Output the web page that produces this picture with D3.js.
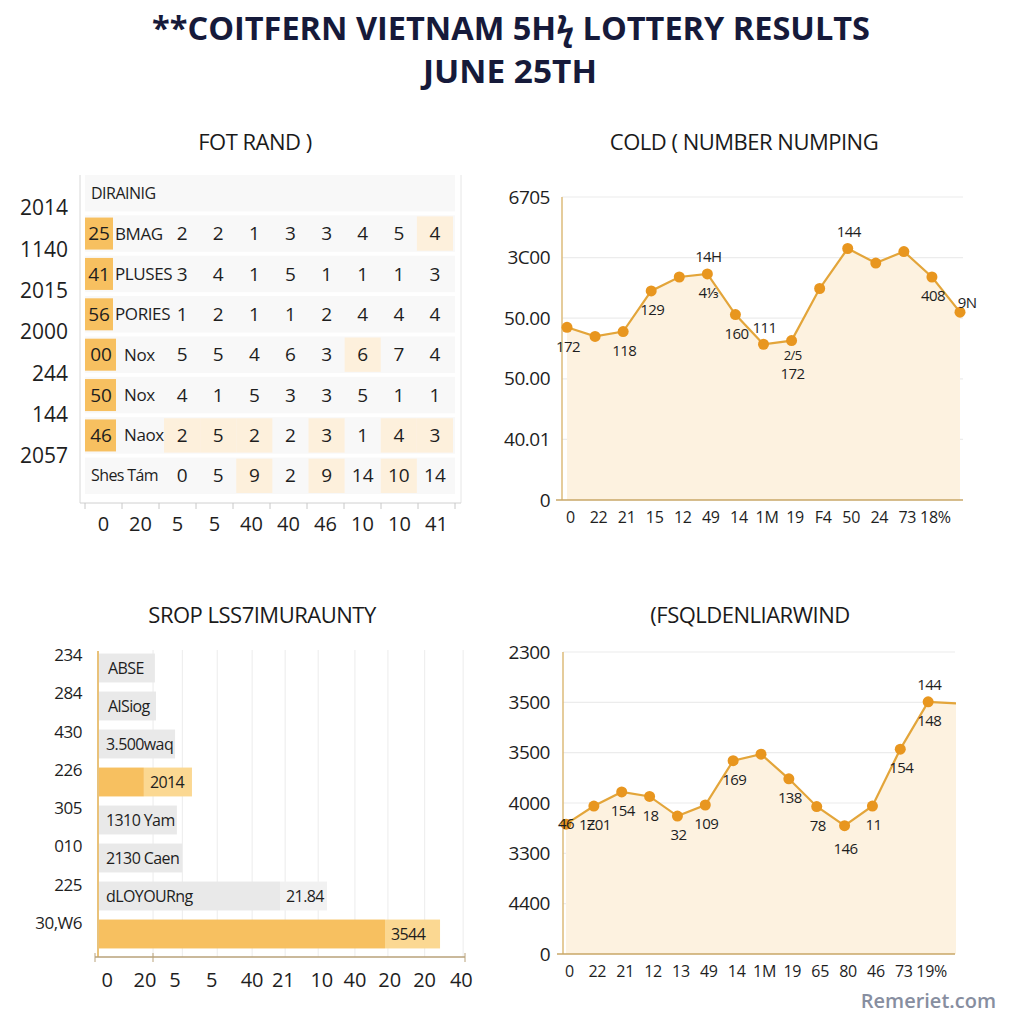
<!DOCTYPE html>
<html><head><meta charset="utf-8">
<script src="https://cdn.jsdelivr.net/npm/d3@7"></script>
<style>body{margin:0;background:#fff} svg{display:block} text{font-family:"Open Sans","Noto Sans",sans-serif;fill:#1e1e1e}</style>
</head><body><svg id="c" width="1024" height="1024"></svg>
<script>
// ---------- DATA ----------
const titleLines = ["**COITFERN VIETNAM 5H\u03DF LOTTERY RESULTS", "JUNE 25TH"];
const panelTitles = ["FOT RAND )", "COLD ( NUMBER NUMPING", "SROP LSS7IMURAUNTY", "(FSQLDENLIARWIND"];

// panel 1: table
const tableHeader = "DIRAINIG";
const rowBadges = ["25", "41", "56", "00", "50", "46", ""];
const rowNames = ["BMAG", "PLUSES", "PORIES", "Nox", "Nox", "Naox", "Shes T\u00e1m"];
const rowValues = [
  [2, 2, 1, 3, 3, 4, 5, 4],
  [3, 4, 1, 5, 1, 1, 1, 3],
  [1, 2, 1, 1, 2, 4, 4, 4],
  [5, 5, 4, 6, 3, 6, 7, 4],
  [4, 1, 5, 3, 3, 5, 1, 1],
  [2, 5, 2, 2, 3, 1, 4, 3],
  [0, 5, 9, 2, 9, 14, 10, 14]
];
const highlightCells = [[0,7],[3,5],[5,0],[5,1],[5,2],[5,4],[5,6],[5,7],[6,2],[6,4],[6,6]];
const tableSideLabels = ["2014", "1140", "2015", "2000", "244", "144", "2057"];
const tableAxisLabels = ["0", "20", "5", "5", "40", "40", "46", "10", "10", "41"];

// panel 2: cold number line
const coldX = ["0", "22", "21", "15", "12", "49", "14", "1M", "19", "F4", "50", "24", "73", "18%"];
const coldValues = [2.85, 2.70, 2.78, 3.45, 3.68, 3.73, 3.06, 2.57, 2.63, 3.49, 4.15, 3.91, 4.10, 3.68, 3.10];
const coldYLabels = ["0", "40.01", "50.00", "50.00", "3C00", "6705"];
const coldNotes = [[0,"172","b"],[2,"118","b"],[3,"129","b"],[5,"14H","a"],[5,"4\u2153","b"],[6,"160","b"],[7,"111","a"],[8,"2/5","b2"],[8,"172","bb"],[10,"144","a"],[13,"408","b"],[14,"9N","ar"]];

// panel 3: bars
const barNames = ["ABSE", "AlSiog", "3.500waq", "", "1310 Yam", "2130 Caen", "dLOYOURng", ""];
const barMain = [15.5, 15.8, 21, 12.5, 21.5, 22.9, 49.6, 78.2];
const barExtra = [0, 0, 0, 13.1, 0, 0, 12.8, 15];
const barExtraLabels = ["", "", "", "2014", "", "", "21.84", "3544"];
const barTone = ["gray", "gray", "gray", "orange", "gray", "gray", "gray", "orange"];
const barSideLabels = ["234", "284", "430", "226", "305", "010", "225", "30,W6"];
const barAxisLabels = ["0", "20", "5", "5", "40", "21", "10", "40", "20", "20", "40"];
const barAxisLabelValues = [2.5, 12.8, 21, 31, 42, 50.5, 61, 70, 79.5, 89, 99];
const barGridValues = [15, 23, 32.5, 42, 51, 60, 70, 79, 89, 99.5];

// panel 4: golden line
const goldX = ["0", "22", "21", "12", "13", "49", "14", "1M", "19", "65", "80", "46", "73", "19%"];
const goldValues = [2.58, 2.94, 3.22, 3.13, 2.74, 2.96, 3.84, 3.97, 3.48, 2.93, 2.55, 2.94, 4.07, 5.01, 4.98];
const goldYLabels = ["0", "4400", "3300", "4000", "3500", "3500", "2300"];
const goldNotes = [[0,"46","c"],[1,"1\u01B501","b"],[2,"154","b"],[3,"18","b"],[4,"32","b"],[5,"109","b"],[6,"169","b"],[8,"138","b"],[9,"78","b"],[10,"146","bb2"],[11,"11","b"],[12,"154","b"],[13,"148","b"],[13,"144","a"]];

const watermark = "Remeriet.com";

// ---------- DRAW ----------
const svg = d3.select("#c");
const ORANGE = "#f7c060", ORANGE_L = "#fbd892", CREAM = "#fdf0dc";
const LINE = "#e3a53a", DOT = "#e8961f", AREA = "#fdf2e0", AXIS = "#dcbb7a";

// main title
svg.append("text").attr("x", 511).attr("y", 40).attr("text-anchor", "middle")
  .attr("font-size", 32).attr("font-weight", 700).style("fill", "#161a3a")
  .attr("textLength", 718).attr("lengthAdjust", "spacingAndGlyphs").text(titleLines[0]);
svg.append("text").attr("x", 510).attr("y", 83).attr("text-anchor", "middle")
  .attr("font-size", 32).attr("font-weight", 700).style("fill", "#161a3a")
  .attr("textLength", 174).attr("lengthAdjust", "spacingAndGlyphs").text(titleLines[1]);

// panel titles
const ptPos = [[255, 150], [744, 150], [262, 623], [750, 623]];
panelTitles.forEach((t, i) => {
  svg.append("text").attr("x", ptPos[i][0]).attr("y", ptPos[i][1]).attr("text-anchor", "middle")
    .attr("font-size", 22).style("fill", "#1a1a1a").attr("letter-spacing", -0.5).text(t);
});

// ---------- Panel 1: table ----------
(function () {
  const g = svg.append("g");
  const yRow = d3.scaleBand().domain(d3.range(8)).range([173, 496]);
  const xCol = d3.scaleBand().domain(d3.range(8)).range([164, 453]);
  g.append("line").attr("x1", 80).attr("x2", 80).attr("y1", 175).attr("y2", 503).attr("stroke", "#d8d8d8");
  g.append("line").attr("x1", 461).attr("x2", 461).attr("y1", 175).attr("y2", 503).attr("stroke", "#e6e6e6");
  g.selectAll("rect.stripe").data(d3.range(8)).join("rect").attr("class", "stripe")
    .attr("x", 85).attr("width", 370).attr("y", d => yRow(d) + 2).attr("height", yRow.bandwidth() - 4)
    .attr("fill", "#f8f8f8");
  g.selectAll("rect.hl").data(highlightCells).join("rect").attr("class", "hl")
    .attr("x", d => xCol(d[1])).attr("width", xCol.bandwidth())
    .attr("y", d => yRow(d[0] + 1) + 3).attr("height", yRow.bandwidth() - 6).attr("fill", CREAM);
  g.append("text").attr("x", 91).attr("y", yRow(0) + yRow.bandwidth() / 2).attr("dy", "0.35em")
    .attr("font-size", 16).attr("letter-spacing", -0.5).text(tableHeader);
  rowNames.forEach((name, r) => {
    const cy = yRow(r + 1) + yRow.bandwidth() / 2;
    if (rowBadges[r] !== "") {
      const wide = name !== name.toUpperCase();
      g.append("rect").attr("x", 85).attr("y", cy - 16).attr("width", wide ? 31 : 28).attr("height", 32).attr("fill", ORANGE);
      g.append("text").attr("x", wide ? 101 : 99).attr("y", cy).attr("dy", "0.35em").attr("text-anchor", "middle")
        .attr("font-size", 19).attr("font-weight", 500).text(rowBadges[r]);
      g.append("text").attr("x", wide ? 124 : 115).attr("y", cy).attr("dy", "0.35em")
        .attr("font-size", 17).attr("letter-spacing", -0.4).text(name);
    } else {
      g.append("text").attr("x", 91).attr("y", cy).attr("dy", "0.35em")
        .attr("font-size", 16).attr("letter-spacing", -0.6).text(name);
    }
    rowValues[r].forEach((v, c) => {
      g.append("text").attr("x", xCol(c) + xCol.bandwidth() / 2).attr("y", cy).attr("dy", "0.35em")
        .attr("text-anchor", "middle").attr("font-size", 19).text(v);
    });
  });
  const ySide = d3.scalePoint().domain(d3.range(tableSideLabels.length)).range([208, 456]);
  g.selectAll("text.side").data(tableSideLabels).join("text").attr("class", "side")
    .attr("x", 68).attr("y", (d, i) => ySide(i)).attr("dy", "0.35em").attr("text-anchor", "end")
    .attr("font-size", 21).text(d => d);
  const xb = d3.scaleBand().domain(d3.range(tableAxisLabels.length)).range([85, 455]);
  g.append("line").attr("x1", 80).attr("x2", 461).attr("y1", 503).attr("y2", 503).attr("stroke", "#d0d0d0");
  const edges = d3.range(tableAxisLabels.length + 1).map(i => 85 + i * xb.step());
  g.selectAll("line.tk").data(edges).join("line").attr("class", "tk")
    .attr("x1", d => d).attr("x2", d => d).attr("y1", 503).attr("y2", 509).attr("stroke", "#c8c8c8");
  g.selectAll("text.ax").data(tableAxisLabels).join("text").attr("class", "ax")
    .attr("x", (d, i) => xb(i) + xb.bandwidth() / 2).attr("y", 524).attr("dy", "0.35em")
    .attr("text-anchor", "middle").attr("font-size", 20).text(d => d);
})();

// ---------- line panels ----------
function linePanel(opts) {
  const g = svg.append("g");
  const x = d3.scaleLinear().domain([0, opts.values.length - 1]).range(opts.xr);
  const y = d3.scaleLinear().domain([0, opts.yLabels.length - 1]).range(opts.yr);
  g.selectAll("line.grid").data(d3.range(1, opts.yLabels.length)).join("line").attr("class", "grid")
    .attr("x1", opts.axisX).attr("x2", opts.gridEnd).attr("y1", d => y(d)).attr("y2", d => y(d))
    .attr("stroke", "#ececec").attr("stroke-width", 1.2);
  const area = d3.area().x((d, i) => x(i)).y0(y(0)).y1(d => y(d));
  g.append("path").datum(opts.values).attr("d", area).attr("fill", AREA);
  g.append("line").attr("x1", opts.axisX).attr("x2", opts.axisX).attr("y1", y(opts.yLabels.length - 1)).attr("y2", y(0))
    .attr("stroke", AXIS).attr("stroke-width", 1.5);
  g.append("line").attr("x1", opts.axisX - 6).attr("x2", opts.gridEnd).attr("y1", y(0)).attr("y2", y(0))
    .attr("stroke", "#c9a767").attr("stroke-width", 1.5);
  const yAxis = d3.axisLeft(y).tickValues(d3.range(opts.yLabels.length)).tickFormat(i => opts.yLabels[i]).tickSize(0).tickPadding(0);
  const ya = g.append("g").attr("transform", `translate(${opts.yLabelX},0)`).call(yAxis);
  ya.select(".domain").remove();
  ya.selectAll("text").attr("font-size", 19).attr("font-family", "'Open Sans',sans-serif").style("fill", "#1e1e1e").attr("letter-spacing", -0.5);
  const xAxis = d3.axisBottom(x).tickValues(d3.range(opts.xLabels.length)).tickFormat(i => opts.xLabels[i]).tickSize(0).tickPadding(0);
  const xa = g.append("g").attr("transform", `translate(3,${opts.xLabelY})`).call(xAxis);
  xa.select(".domain").remove();
  xa.selectAll("text").attr("font-size", 16).attr("font-family", "'Open Sans',sans-serif").style("fill", "#1e1e1e").attr("letter-spacing", -0.3);
  const line = d3.line().x((d, i) => x(i)).y(d => y(d));
  g.append("path").datum(opts.values).attr("d", line).attr("fill", "none").attr("stroke", LINE).attr("stroke-width", 2.2);
  g.selectAll("circle").data(opts.values.map((v, i) => [i, v]).filter(d => d[0] < opts.dotCount)).join("circle")
    .attr("cx", d => x(d[0])).attr("cy", d => y(d[1])).attr("r", 5.5).attr("fill", DOT);
  const off = { a: -17, b: 19, b2: 15, bb: 33, bb2: 23, c: 0, ar: -9 };
  g.selectAll("text.note").data(opts.notes).join("text").attr("class", "note")
    .attr("x", d => x(d[0]) + (d[2] === "ar" ? 7 : d[2] === "c" ? 0 : 1))
    .attr("y", d => y(opts.values[d[0]]) + off[d[2]]).attr("dy", "0.35em").attr("text-anchor", "middle")
    .attr("font-size", d => d[2] === "b2" ? 13 : 15).attr("letter-spacing", -0.6).text(d => d[1]);
}

linePanel({ values: coldValues, xLabels: coldX, yLabels: coldYLabels, notes: coldNotes,
  xr: [567, 960], yr: [500, 197], axisX: 562, gridEnd: 963, yLabelX: 550, xLabelY: 512, dotCount: 15 });
linePanel({ values: goldValues, xLabels: goldX, yLabels: goldYLabels, notes: goldNotes,
  xr: [566, 956], yr: [954, 652], axisX: 563, gridEnd: 955, yLabelX: 550, xLabelY: 966, dotCount: 14 });

// ---------- Panel 3: bars ----------
(function () {
  const g = svg.append("g");
  const x = d3.scaleLinear().domain([0, 100]).range([98, 465]);
  const y = d3.scaleBand().domain(d3.range(barMain.length)).range([649, 953]).paddingInner(0.24).paddingOuter(0.12);
  g.selectAll("line.grid").data(barGridValues).join("line").attr("class", "grid")
    .attr("x1", d => x(d)).attr("x2", d => x(d)).attr("y1", 650).attr("y2", 957).attr("stroke", "#efefef").attr("stroke-width", 1.2);
  const tones = { gray: ["#e9e9e9", "#f1f1f1"], orange: [ORANGE, ORANGE_L] };
  g.selectAll("rect.ex").data(barExtra).join("rect").attr("class", "ex")
    .attr("x", (d, i) => x(barMain[i])).attr("width", (d, i) => x(barMain[i] + d) - x(barMain[i]))
    .attr("y", (d, i) => y(i)).attr("height", y.bandwidth()).attr("fill", (d, i) => tones[barTone[i]][1]);
  g.selectAll("rect.main").data(barMain).join("rect").attr("class", "main")
    .attr("x", x(0)).attr("width", d => x(d) - x(0))
    .attr("y", (d, i) => y(i)).attr("height", y.bandwidth()).attr("fill", (d, i) => tones[barTone[i]][0]);
  g.selectAll("text.nm").data(barNames).join("text").attr("class", "nm")
    .attr("x", (d, i) => x(0) + (d.length > 6 ? 8 : 10)).attr("y", (d, i) => y(i) + y.bandwidth() / 2).attr("dy", "0.35em")
    .attr("font-size", 16).attr("letter-spacing", -0.6).text(d => d);
  g.selectAll("text.ex").data(barExtraLabels).join("text").attr("class", "ex")
    .attr("x", (d, i) => x(barMain[i]) + 6).attr("y", (d, i) => y(i) + y.bandwidth() / 2).attr("dy", "0.35em")
    .attr("font-size", 16).attr("letter-spacing", -0.6).text(d => d);
  g.append("line").attr("x1", 98).attr("x2", 98).attr("y1", 651).attr("y2", 957).attr("stroke", "#e9c27a").attr("stroke-width", 2);
  g.append("line").attr("x1", 95).attr("x2", 465).attr("y1", 957).attr("y2", 957).attr("stroke", "#b9a27a").attr("stroke-width", 1.3);
  [95, 153, 465].forEach(t => g.append("line").attr("x1", t).attr("x2", t).attr("y1", 953).attr("y2", 962).attr("stroke", "#b9a27a"));
  g.selectAll("text.ax").data(barAxisLabels).join("text").attr("class", "ax")
    .attr("x", (d, i) => x(barAxisLabelValues[i])).attr("y", 980).attr("dy", "0.35em").attr("text-anchor", "middle")
    .attr("font-size", 20).text(d => d);
  const ys = d3.scalePoint().domain(d3.range(barSideLabels.length)).range([655, 923]);
  g.selectAll("text.side").data(barSideLabels).join("text").attr("class", "side")
    .attr("x", 82).attr("y", (d, i) => ys(i)).attr("dy", "0.35em").attr("text-anchor", "end")
    .attr("font-size", 17).attr("letter-spacing", -0.5).text(d => d);
})();

svg.append("text").attr("x", 996).attr("y", 1008).attr("text-anchor", "end").attr("font-size", 20)
  .attr("font-weight", 600).style("fill", "#878ea0").text(watermark);
</script>
</body></html>
